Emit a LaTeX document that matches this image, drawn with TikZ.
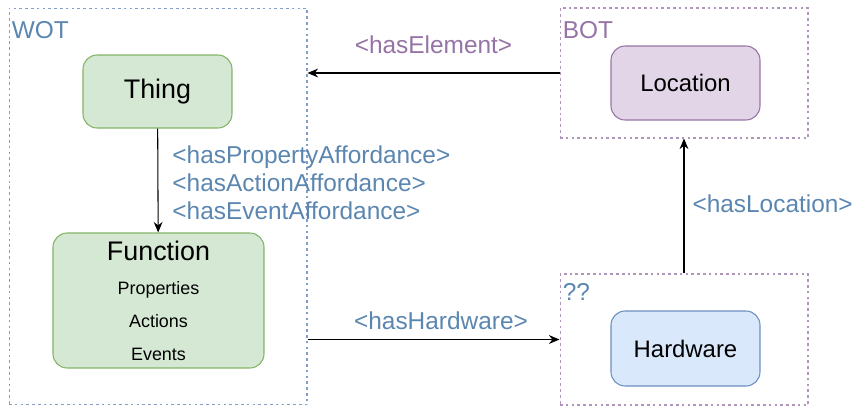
\documentclass[tikz,border=0pt]{standalone}
\usepackage{fontspec}
\setmainfont{Liberation Sans}
\usepackage{xcolor}
\usetikzlibrary{positioning, arrows.meta, calc}

\definecolor{wotblue}{HTML}{6C8EBF}
\definecolor{wottext}{HTML}{5B86B0}
\definecolor{botpurple}{HTML}{9673A6}
\definecolor{greenfill}{HTML}{D5E8D4}
\definecolor{greenline}{HTML}{82B366}
\definecolor{purplefill}{HTML}{E1D5E7}
\definecolor{bluefill}{HTML}{DAE8FC}

\begin{document}
\begin{tikzpicture}[
    x=0.02cm, y=-0.02cm,
    frame/.style={draw, rectangle, line width=0.6pt, dash pattern=on 1.5pt off 1.8pt, inner sep=0pt},
    framelabel/.style={anchor=north west, inner sep=0pt, font=\fontsize{13.9}{16}\selectfont},
    entity/.style={draw, rectangle, rounded corners=8pt, line width=0.6pt, align=center, inner sep=0pt},
    relation/.style={font=\fontsize{13.9}{15.9}\selectfont},
    link/.style={-{Stealth[length=6pt, width=5pt]}, line width=0.6pt}
]
    \useasboundingbox (0,0) rectangle (856,407);

    % WOT frame
    \node[frame, draw=wotblue!85, minimum width=5.96cm, minimum height=7.94cm] (wot) at (158,206.5) {};
    \node[framelabel, text=wottext] (wotlabel) at ([shift={(3,14)}]wot.north west) {WOT};

    \node[entity, fill=greenfill, draw=greenline, minimum width=2.98cm, minimum height=1.46cm,
          font=\fontsize{15.3}{18}\selectfont] (thing) at (157.5,91.5) {Thing};
    \node[entity, fill=greenfill, draw=greenline, minimum width=4.22cm, minimum height=2.7cm,
          font=\fontsize{10.2}{18.7}\selectfont] (function) at (158.5,300.5)
          {{\fontsize{15.3}{18}\selectfont Function}\\[1pt] Properties\\ Actions\\ Events};

    \draw[link] (thing) -- (function)
        node[midway, anchor=west, xshift=0.28cm, yshift=-0.05cm, inner sep=0pt, align=left,
             relation, text=wottext] (affordances)
        {<hasPropertyAffordance>\\ <hasActionAffordance>\\ <hasEventAffordance>};

    % BOT frame
    \node[frame, draw=botpurple!75, minimum width=4.96cm, minimum height=2.6cm] (bot) at (684,73) {};
    \node[framelabel, text=botpurple] (botlabel) at ([shift={(3,14)}]bot.north west) {BOT};
    \node[entity, fill=purplefill, draw=botpurple, minimum width=2.98cm, minimum height=1.48cm,
          font=\fontsize{13.6}{16}\selectfont] (location) at (685.5,83) {Location};

    % unknown frame
    \node[frame, draw=botpurple!75, minimum width=4.96cm, minimum height=2.62cm] (unknown) at (684,339.5) {};
    \node[framelabel, text=wottext] (unknownlabel) at ([shift={(3,10)}]unknown.north west) {??};
    \node[entity, fill=bluefill, draw=wotblue, minimum width=2.98cm, minimum height=1.5cm,
          font=\fontsize{13.6}{16}\selectfont] (hardware) at (685.5,348.5) {Hardware};

    % relations between frames
    \draw[link] (bot.west) -- (bot.west -| wot.east)
        node[midway, yshift=0.56cm, relation, text=botpurple] (haselement) {<hasElement>};
    \draw[link] (unknown.north) -- (bot.south)
        node[midway, anchor=west, xshift=0.16cm, yshift=0.04cm, inner sep=0pt, relation, text=wottext] (haslocation) {<hasLocation>};
    \draw[link] (wot.east |- unknown.west) -- (unknown.west)
        node[midway, xshift=0.15cm, yshift=0.38cm, relation, text=wottext] (hashardware) {<hasHardware>};
\end{tikzpicture}
\end{document}
